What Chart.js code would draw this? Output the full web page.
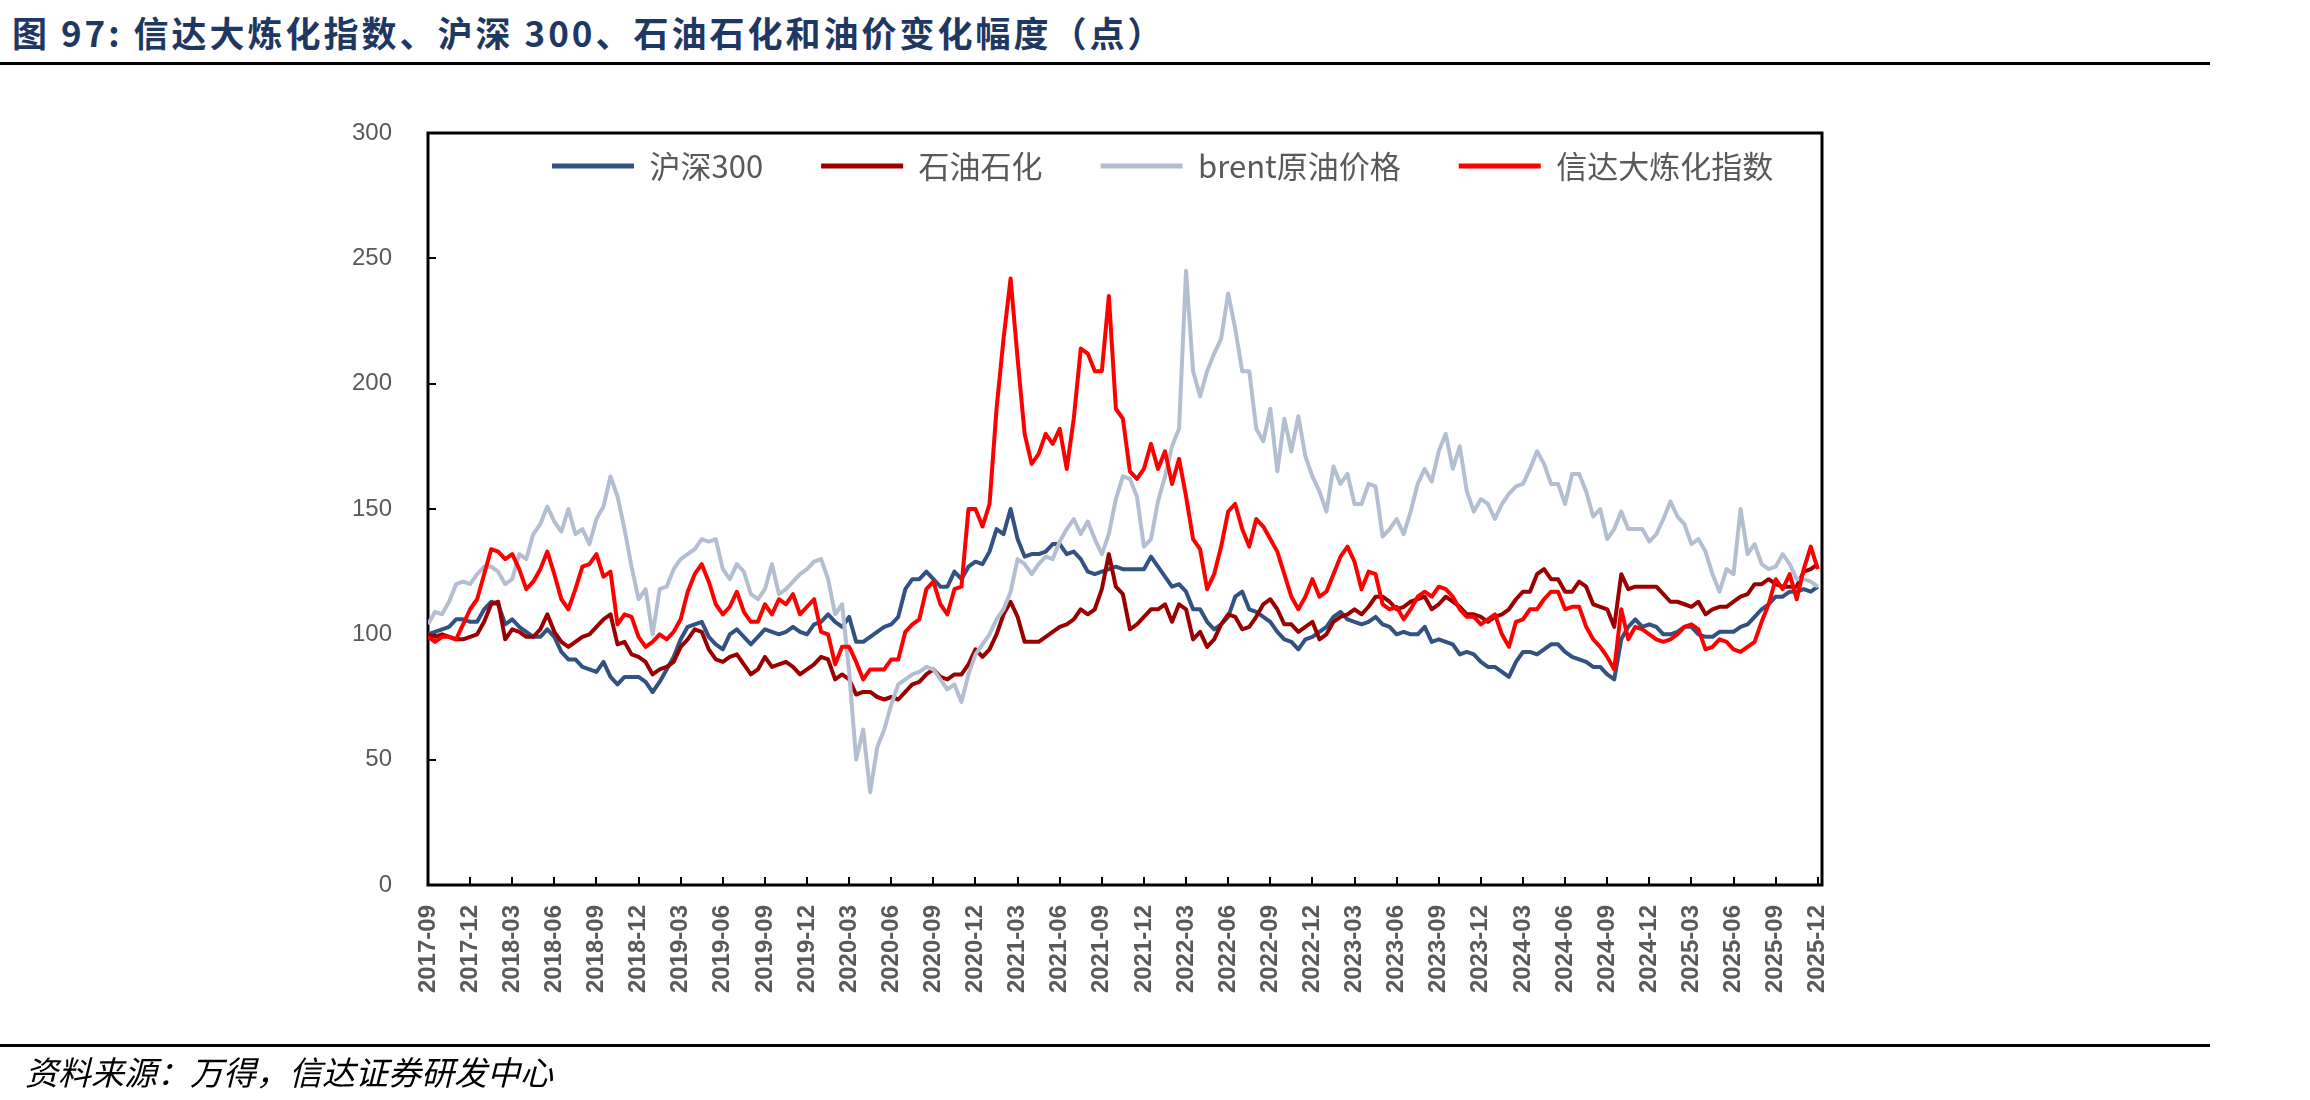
<!DOCTYPE html>
<html>
<head>
<meta charset="utf-8">
<script src="https://cdn.jsdelivr.net/npm/chart.js@4.4.1/dist/chart.umd.min.js"></script>
<style>
  body { margin: 0; background: #fff; width: 2310px; height: 1100px; overflow: hidden; position: relative; font-family: "Noto Sans CJK SC", sans-serif; }
  #title { position: absolute; left: 12px; top: 6px; font-size: 35px; letter-spacing: 3px; font-weight: bold; color: #1f3763; white-space: nowrap; }
  .rule { position: absolute; left: 0; width: 2210px; height: 3px; background: #000; }
  #foot { position: absolute; left: 25px; top: 1047px; font-size: 33px; font-style: italic; color: #000; white-space: nowrap; }
  #wrap { position: absolute; left: 0; top: 0; width: 2310px; height: 1100px; }
</style>
</head>
<body>
<div id="title">图 97: 信达大炼化指数、沪深 300、石油石化和油价变化幅度（点）</div>
<div class="rule" style="top:62px"></div>
<div id="wrap"><canvas id="lineChart"></canvas></div>
<div class="rule" style="top:1044px"></div>
<div id="foot">资料来源：万得，信达证券研发中心</div>

<script>
// ====== DATA ======
// quarter ticks on the x axis
const tickLabels = ['2017-09','2017-12','2018-03','2018-06','2018-09','2018-12','2019-03','2019-06','2019-09','2019-12',
  '2020-03','2020-06','2020-09','2020-12','2021-03','2021-06','2021-09','2021-12','2022-03','2022-06','2022-09','2022-12',
  '2023-03','2023-06','2023-09','2023-12','2024-03','2024-06','2024-09','2024-12','2025-03','2025-06','2025-09','2025-12'];

const seriesNames = ['沪深300', '石油石化', 'brent原油价格', '信达大炼化指数'];

// one reading every half month from 2017-09
const STEP = 0.5;

const hs300 = [
  100,101,102,103,106,106,105,105,110,113,112,104,106,103,101,99,99,102,99,93,90,90,87,86,85,89,83,80,83,83,83,81,77,81,
  86,91,98,103,104,105,99,96,94,100,102,99,96,99,102,101,100,101,103,101,100,104,105,108,105,103,107,97,97,99,101,103,104,107,
  118,122,122,125,122,119,119,125,122,127,129,128,133,142,140,150,138,131,132,132,133,136,136,132,133,130,125,124,125,126,127,126,126,
  126,126,131,127,123,119,120,117,110,110,105,102,104,107,115,117,110,109,107,105,101,98,97,94,98,99,101,103,107,109,106,105,104,105,
  107,104,103,100,101,100,100,103,97,98,97,96,92,93,92,89,87,87,85,83,89,93,93,92,94,96,96,93,91,90,89,87,
  87,84,82,98,103,106,103,104,103,100,100,101,103,103,100,99,99,101,101,101,103,104,107,110,112,115,115,117,117,118,117,119
];

const sysh = [
  100,99,100,99,98,98,99,100,105,112,113,98,102,101,99,99,102,108,101,97,95,97,99,100,103,106,108,96,97,92,91,89,84,86,
  87,89,95,98,102,101,94,90,89,91,92,88,84,86,91,87,88,89,87,84,86,88,91,90,82,84,82,76,77,77,75,74,75,74,
  77,80,81,84,86,83,82,84,84,88,94,91,94,100,108,113,107,97,97,97,99,101,103,104,106,110,108,110,118,132,119,116,102,
  104,107,110,110,112,105,112,110,98,101,95,98,104,108,107,102,103,107,112,114,110,104,104,101,103,105,98,100,105,107,108,110,108,111,
  115,115,113,110,111,113,114,115,110,112,115,113,111,108,108,107,105,107,108,110,114,117,117,124,126,122,122,117,117,121,119,112,
  111,110,103,124,118,119,119,119,119,116,113,113,112,111,113,108,110,111,111,113,115,116,120,120,122,120,119,119,119,125,126,128
];

const brent = [
  104,109,108,113,120,121,120,124,127,127,125,120,122,132,130,140,144,151,145,141,150,140,142,136,146,151,163,155,142,127,114,118,100,118,
  119,126,130,132,134,138,137,138,126,122,128,125,116,114,118,128,116,118,121,124,126,129,130,122,108,112,85,50,62,37,55,62,72,80,
  82,84,85,87,86,82,78,80,73,84,92,96,100,106,110,117,130,128,124,128,131,130,137,142,146,140,145,138,132,140,154,163,162,
  155,135,138,153,163,175,182,245,205,195,205,212,218,236,222,205,205,182,177,190,165,186,173,187,171,163,157,149,167,160,164,152,152,160,
  159,139,142,146,140,149,160,166,161,173,180,166,175,157,149,154,152,146,152,156,159,160,166,173,168,160,160,152,164,164,157,147,
  150,138,142,149,142,142,142,137,140,146,153,147,144,136,138,133,124,117,126,124,150,132,136,128,126,127,132,128,122,122,121,119
];

const xdIndex = [
  99,97,99,99,98,104,110,114,124,134,133,130,132,126,118,121,126,133,124,114,110,118,127,128,132,123,125,104,108,107,99,95,97,100,
  98,101,106,117,124,128,121,112,108,111,117,109,105,105,112,108,114,112,116,108,111,114,101,100,88,95,95,89,82,86,86,86,90,90,
  101,104,106,118,121,112,108,118,119,150,150,143,152,190,218,242,210,180,168,172,180,176,182,166,186,214,212,205,205,235,190,186,165,
  162,166,176,166,173,160,170,155,138,134,118,124,135,149,152,142,135,146,143,138,133,124,115,110,115,122,115,117,124,131,135,129,118,125,
  124,112,110,111,106,110,115,117,115,119,118,115,110,107,107,104,106,108,100,95,105,106,110,110,114,117,117,110,111,111,103,98,
  95,91,86,110,98,103,102,100,98,97,98,100,103,104,102,94,95,98,97,94,93,95,97,105,112,122,118,124,114,126,135,126
];

const yTicks = [0, 50, 100, 150, 200, 250, 300];

// ====== HELPERS ======
// month offset from 2017-09 for a 'YYYY-MM' label
function monthIndex(label) {
  const [y, m] = label.split('-').map(Number);
  return (y - 2017) * 12 + (m - 9);
}
const tickMonths = tickLabels.map(monthIndex);

function toPoints(arr) {
  return arr.map((v, i) => ({ x: i * STEP, y: v }));
}

const GRAY = '#595959';
const LEGEND_X = 124;   // legend start, from plot left
const LEGEND_Y = 33;    // legend text centre, from plot top

// black frame round the plot area
const plotFrame = {
  id: 'plotFrame',
  beforeDatasetsDraw(chart) {
    const { ctx, chartArea: a } = chart;
    ctx.save();
    ctx.strokeStyle = '#000';
    ctx.lineWidth = 3;
    ctx.strokeRect(a.left, a.top, a.right - a.left, a.bottom - a.top);
    ctx.restore();
  }
};

// legend takes no room on top; move its row inside the plot near the top
const legendPlace = {
  id: 'legendPlace',
  afterLayout(chart) {
    const lg = chart.legend, a = chart.chartArea;
    if (!lg || !lg.lineWidths) return;
    const pad = lg.options.labels.padding;
    const fs = lg.options.labels.font.size;
    const start = (a.left + pad + a.right - lg.lineWidths[0]) / 2;
    const d = a.left + LEGEND_X - start;
    lg.left = a.left + d;
    lg.right = a.right + d;
    lg.width = lg.right - lg.left;
    lg.top = a.top + LEGEND_Y - pad - fs / 2;
    lg.height = fs + 2 * pad;
    lg.bottom = lg.top + lg.height;
  }
};

// ====== CHART.JS INITIALIZATION ======
function initLineChart() {
  const ctx = document.getElementById('lineChart');

  new Chart(ctx, {
    type: 'line',
    data: {
      datasets: [
        { label: seriesNames[0], data: toPoints(hs300), borderColor: '#325282', order: 4 },
        { label: seriesNames[1], data: toPoints(sysh), borderColor: '#9a0000', order: 3 },
        { label: seriesNames[2], data: toPoints(brent), borderColor: '#b3bfd0', order: 2 },
        { label: seriesNames[3], data: toPoints(xdIndex), borderColor: '#ff0000', order: 1 }
      ]
    },
    options: {
      responsive: true,
      maintainAspectRatio: false,
      animation: false,
      layout: { padding: { left: 0, top: 132, right: 488, bottom: 100 } },
      elements: {
        line: { borderWidth: 4, tension: 0, borderJoinStyle: 'round' },
        point: { radius: 0 }
      },
      plugins: {
        tooltip: { enabled: false },
        legend: {
          position: 'top',
          align: 'center',
          maxHeight: 1,
          labels: {
            font: { size: 31, family: '"Noto Sans CJK SC", sans-serif' },
            color: GRAY,
            boxWidth: 82,
            boxHeight: 5,
            padding: 58,
            generateLabels: chart => chart.data.datasets.map((ds, i) => ({
              text: ds.label,
              fillStyle: ds.borderColor,
              strokeStyle: ds.borderColor,
              lineWidth: 0,
              hidden: false,
              datasetIndex: i,
              fontColor: GRAY
            }))
          }
        }
      },
      scales: {
        x: {
          type: 'linear',
          min: 0,
          max: 99.3,
          border: { display: false },
          grid: { display: true, drawOnChartArea: false, drawTicks: true, tickLength: -8, color: '#000', lineWidth: 2 },
          afterBuildTicks: axis => { axis.ticks = tickMonths.map(v => ({ value: v })); },
          afterFit: axis => { axis.height = 115; },
          ticks: {
            autoSkip: false,
            minRotation: 90,
            maxRotation: 90,
            padding: 28,
            color: GRAY,
            font: { size: 24, weight: 'bold', family: '"Liberation Sans", Arial, sans-serif' },
            callback: (v, i) => tickLabels[i]
          }
        },
        y: {
          min: 0,
          max: 300,
          border: { display: false },
          grid: { display: true, drawOnChartArea: false, drawTicks: true, tickLength: -8, color: '#000', lineWidth: 2 },
          afterBuildTicks: axis => { axis.ticks = yTicks.map(v => ({ value: v })); },
          afterFit: axis => { axis.width = 428; },
          ticks: {
            padding: 44,
            color: GRAY,
            font: { size: 24, family: '"Liberation Sans", Arial, sans-serif' }
          }
        }
      }
    },
    plugins: [plotFrame, legendPlace]
  });
}

initLineChart();
</script>
</body>
</html>
